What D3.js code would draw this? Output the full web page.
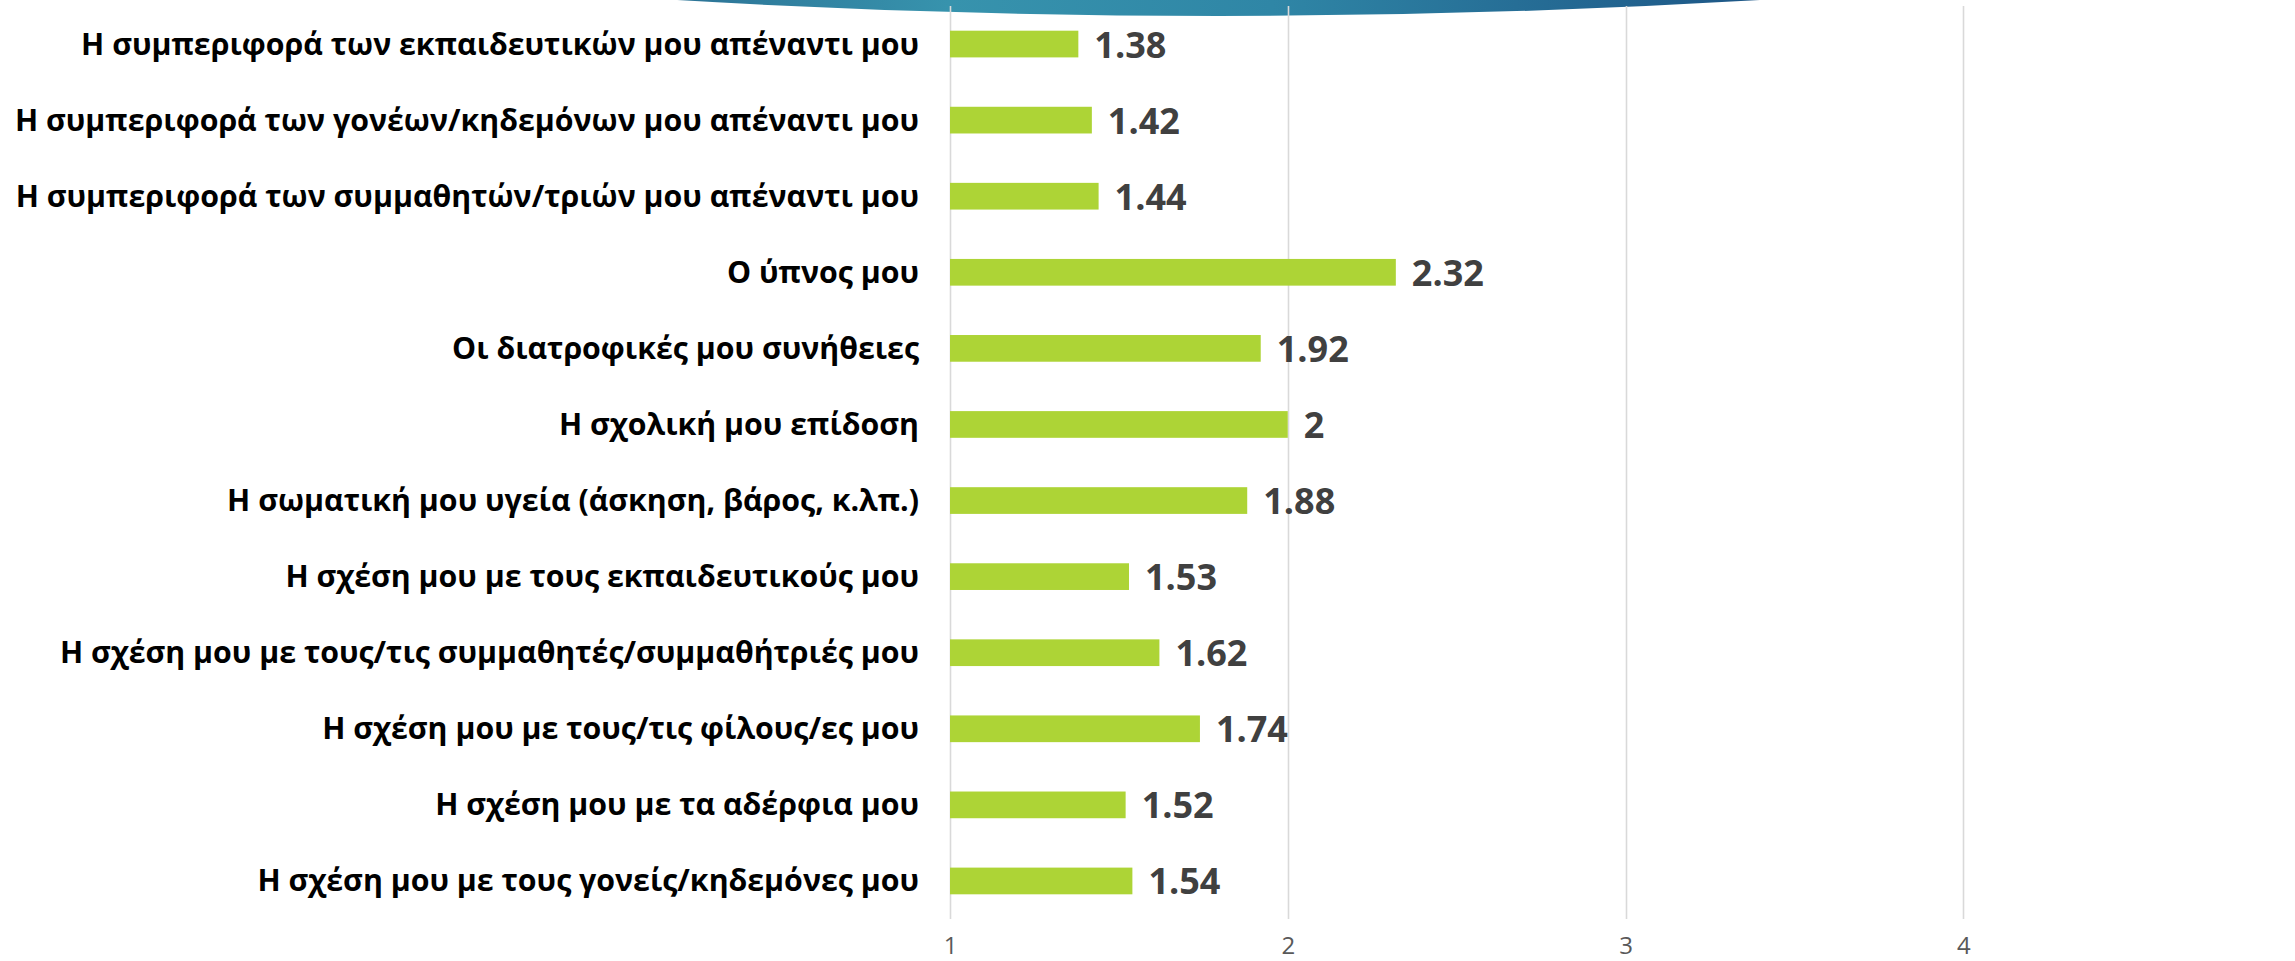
<!DOCTYPE html>
<html>
<head>
<meta charset="utf-8">
<script src="https://cdn.jsdelivr.net/npm/d3@7"></script>
<style>
  html, body { margin: 0; padding: 0; background: #ffffff; }
  svg { display: block; }
</style>
</head>
<body>
<svg id="chart" width="2295" height="961"></svg>
<script>
// ---- data ----
const categories = [
  "Η συμπεριφορά των εκπαιδευτικών μου απέναντι μου",
  "Η συμπεριφορά των γονέων/κηδεμόνων μου απέναντι μου",
  "Η συμπεριφορά των συμμαθητών/τριών μου απέναντι μου",
  "Ο ύπνος μου",
  "Οι διατροφικές μου συνήθειες",
  "Η σχολική μου επίδοση",
  "Η σωματική μου υγεία (άσκηση, βάρος, κ.λπ.)",
  "Η σχέση μου με τους εκπαιδευτικούς μου",
  "Η σχέση μου με τους/τις συμμαθητές/συμμαθήτριές μου",
  "Η σχέση μου με τους/τις φίλους/ες μου",
  "Η σχέση μου με τα αδέρφια μου",
  "Η σχέση μου με τους γονείς/κηδεμόνες μου"
];
const values = [1.38, 1.42, 1.44, 2.32, 1.92, 2, 1.88, 1.53, 1.62, 1.74, 1.52, 1.54];
const valueLabels = ["1.38", "1.42", "1.44", "2.32", "1.92", "2", "1.88", "1.53", "1.62", "1.74", "1.52", "1.54"];
const tickValues = [1, 2, 3, 4];
const tickLabels = ["1", "2", "3", "4"];
const gridValues = [1, 2, 3, 4, 5];
const xDomain = [1, 5];

// ---- setup ----
const svg = d3.select("#chart");

const x = d3.scaleLinear().domain(xDomain).range([950, 2301]);
const y = d3.scaleBand().domain(categories).range([6, 919])
  .paddingInner(0.649).paddingOuter(0.3245);

// decorative arc at top (template)
const defs = svg.append("defs");
const grad = defs.append("linearGradient").attr("id", "arcGrad")
  .attr("x1", "0%").attr("x2", "100%").attr("y1", "0%").attr("y2", "0%");
grad.append("stop").attr("offset", "0%").attr("stop-color", "#2c7396");
grad.append("stop").attr("offset", "25%").attr("stop-color", "#3793ad");
grad.append("stop").attr("offset", "55%").attr("stop-color", "#2f86a6");
grad.append("stop").attr("offset", "100%").attr("stop-color", "#1d5686");
svg.append("path")
  .attr("d", "M677,0 Q1218,32 1760,0 Z")
  .attr("fill", "url(#arcGrad)");

// gridlines
svg.append("g").selectAll("line").data(gridValues).join("line")
  .attr("x1", d => Math.round(x(d)) + 0.5)
  .attr("x2", d => Math.round(x(d)) + 0.5)
  .attr("y1", 6).attr("y2", 919)
  .attr("stroke", "#d9d9d9").attr("stroke-width", 1.6);

// x axis tick labels
const xAxis = d3.axisBottom(x).tickValues(tickValues)
  .tickFormat((d, i) => tickLabels[i]).tickSize(0).tickPadding(0);
const gx = svg.append("g").attr("transform", "translate(0,940)").call(xAxis);
gx.select(".domain").remove();
gx.selectAll("text")
  .attr("dy", null).attr("y", 14)
  .attr("fill", "#595959")
  .style("font-family", "'Open Sans', 'Noto Sans', sans-serif")
  .style("font-size", "24px")
  .style("font-weight", "400");

// bars
svg.append("g").selectAll("rect").data(values).join("rect")
  .attr("x", x(1))
  .attr("y", (d, i) => y(categories[i]))
  .attr("width", d => x(d) - x(1))
  .attr("height", y.bandwidth())
  .attr("fill", "#add436");

// value labels
svg.append("g").selectAll("text").data(values).join("text")
  .attr("x", d => x(d) + 16)
  .attr("y", (d, i) => y(categories[i]) + y.bandwidth() / 2 + 13.5)
  .text((d, i) => valueLabels[i])
  .attr("fill", "#404040")
  .style("font-family", "'Open Sans', 'Noto Sans', sans-serif")
  .style("font-size", "36px")
  .style("font-weight", "700");

// category labels (y axis)
const yAxis = d3.axisLeft(y).tickSize(0).tickPadding(0);
const gy = svg.append("g").attr("transform", "translate(919,0)").call(yAxis);
gy.select(".domain").remove();
const catText = gy.selectAll("text")
  .attr("dy", null).attr("x", 0)
  .attr("y", 10.5)
  .attr("fill", "#000000")
  .style("font-family", "'Open Sans', 'Noto Sans', sans-serif")
  .style("font-size", "30px")
  .style("font-weight", "700");

// fit the label widths to the reference proportions (longest label spans ~904px)
const lengths = [];
catText.each(function () { lengths.push(this.getComputedTextLength()); });
const maxLen = d3.max(lengths);
const k = 904 / maxLen;
catText.each(function (d, i) {
  d3.select(this).attr("textLength", lengths[i] * k).attr("lengthAdjust", "spacingAndGlyphs");
});
</script>
</body>
</html>
